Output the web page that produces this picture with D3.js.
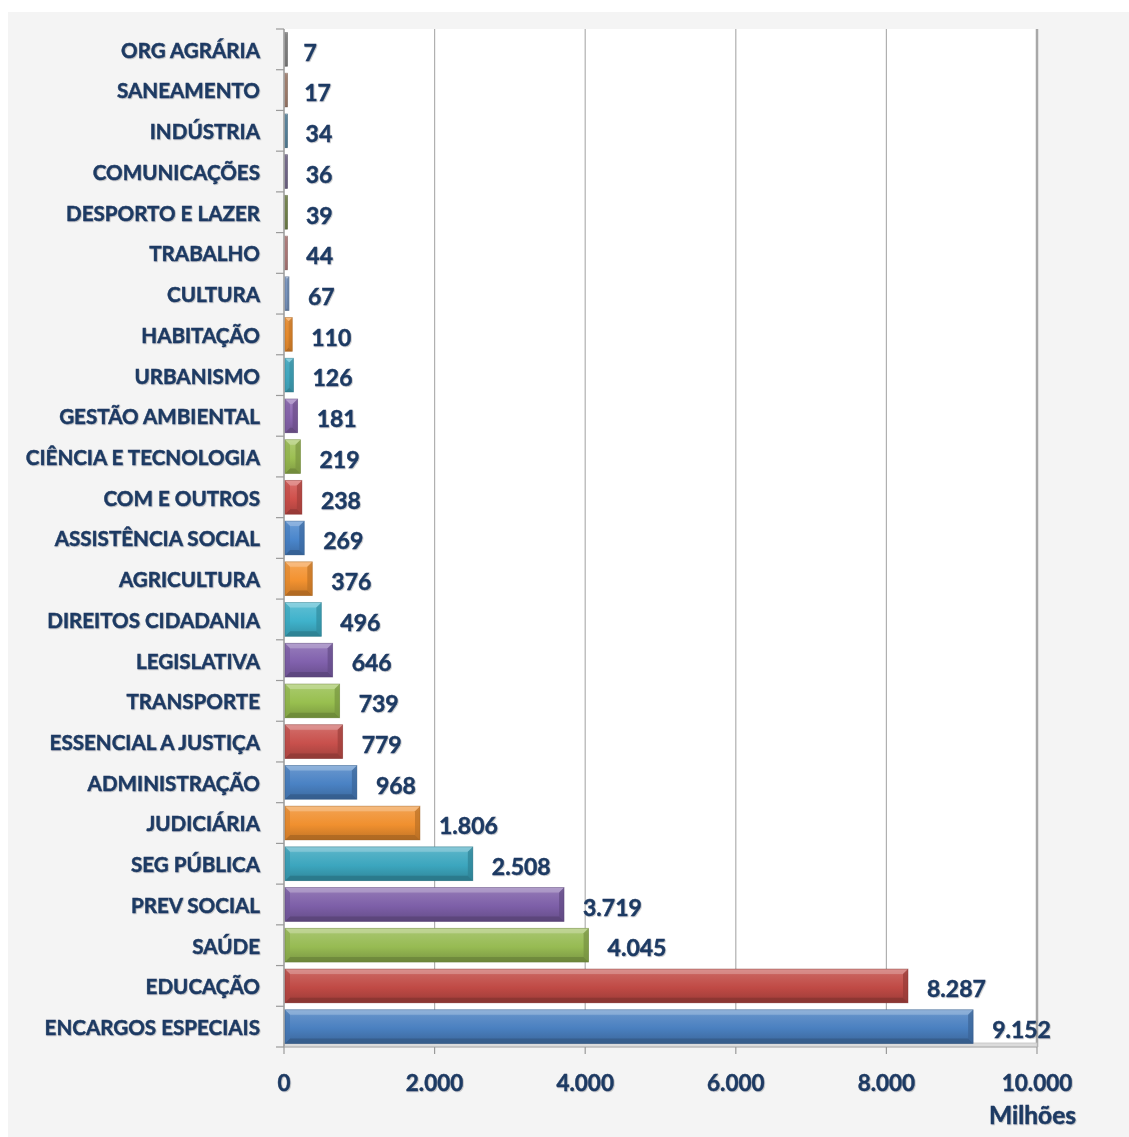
<!DOCTYPE html>
<html><head><meta charset="utf-8">
<script src="https://cdn.jsdelivr.net/npm/d3@7"></script>
<style>html,body{margin:0;padding:0;background:#fff}</style>
</head><body>
<svg id="c" width="1129" height="1137"></svg>
<script>
const categories = ["ORG AGRÁRIA","SANEAMENTO","INDÚSTRIA","COMUNICAÇÕES","DESPORTO E LAZER","TRABALHO","CULTURA","HABITAÇÃO","URBANISMO","GESTÃO AMBIENTAL","CIÊNCIA E TECNOLOGIA","COM E OUTROS","ASSISTÊNCIA SOCIAL","AGRICULTURA","DIREITOS CIDADANIA","LEGISLATIVA","TRANSPORTE","ESSENCIAL A JUSTIÇA","ADMINISTRAÇÃO","JUDICIÁRIA","SEG PÚBLICA","PREV SOCIAL","SAÚDE","EDUCAÇÃO","ENCARGOS ESPECIAIS"];
const values = [7,17,34,36,39,44,67,110,126,181,219,238,269,376,496,646,739,779,968,1806,2508,3719,4045,8287,9152];
const valueLabels = ["7","17","34","36","39","44","67","110","126","181","219","238","269","376","496","646","739","779","968","1.806","2.508","3.719","4.045","8.287","9.152"];
const barColors = ["#8c8c8c","#b08a78","#5f8fab","#7d7296","#7d8f52","#bf8584","#7f9cc8","#f39230","#45b1c9","#8a66b0","#9cbf52","#d0504b","#4a86cc","#f39230","#3fb2cb","#8161ad","#98bf4f","#c8504c","#4a82c4","#f0902f","#3ca6be","#7d5fa8","#97bb53","#c04a45","#4a80c0"];
const xTicks = [0,2000,4000,6000,8000,10000];
const xTickLabels = ["0","2.000","4.000","6.000","8.000","10.000"];
const unitLabel = "Milhões";

const svg = d3.select("#c");
const textColor = "#1f3a63";
const font = "Lato, 'Open Sans', sans-serif";

const defs = svg.append("defs");
const sh = defs.append("filter").attr("id","ts").attr("x","-5%").attr("y","-20%").attr("width","110%").attr("height","140%");
sh.append("feDropShadow").attr("dx",0.8).attr("dy",0.8).attr("stdDeviation",0.6).attr("flood-color","#000").attr("flood-opacity",0.25);

svg.append("rect").attr("x",8).attr("y",12).attr("width",1121).attr("height",1125).attr("fill","#f4f4f4");

const x = d3.scaleLinear().domain([0,10000]).range([284,1037]);
const y = d3.scaleBand().domain(categories).range([29,1047]).paddingInner(0.17).paddingOuter(0.085);

svg.append("rect").attr("x",x(0)).attr("y",29).attr("width",x(10000)-x(0)).attr("height",1047-29).attr("fill","#fff");

svg.append("g").selectAll("line").data(xTicks.slice(1)).join("line")
  .attr("x1",d=>x(d)).attr("x2",d=>x(d)).attr("y1",29).attr("y2",1047)
  .attr("stroke",d=> d===10000 ? "#a8a8a8" : "#b0b0b0")
  .attr("stroke-width",d=> d===10000 ? 2.5 : 1.2);

svg.append("rect").attr("x",x(0)).attr("y",1043).attr("width",x(10000)-x(0)).attr("height",4)
  .attr("fill","#dcdcdc").attr("stroke","#c4c4c4").attr("stroke-width",0.8);

svg.append("line").attr("x1",x(0)).attr("x2",x(0)).attr("y1",29).attr("y2",1047).attr("stroke","#9a9a9a").attr("stroke-width",1.5);
const bounds = categories.map(c=>y(c)-y.step()*y.paddingInner()/2).concat([1047]);
svg.append("g").selectAll("line").data(bounds).join("line")
  .attr("x1",276).attr("x2",x(0)).attr("y1",d=>d).attr("y2",d=>d)
  .attr("stroke","#9a9a9a").attr("stroke-width",1.2);
svg.append("line").attr("x1",x(0)).attr("x2",x(10000)).attr("y1",1047).attr("y2",1047).attr("stroke","#b0b0b0").attr("stroke-width",1.2);
svg.append("g").selectAll("line").data(xTicks).join("line")
  .attr("x1",d=>x(d)).attr("x2",d=>x(d)).attr("y1",1047).attr("y2",1054)
  .attr("stroke","#9a9a9a").attr("stroke-width",1.2);

barColors.forEach((c,i)=>{
  const g = defs.append("linearGradient").attr("id","g"+i).attr("x1",0).attr("y1",0).attr("x2",0).attr("y2",1);
  const base = d3.color(c);
  g.append("stop").attr("offset","0%").attr("stop-color",d3.interpolateRgb(c,"#fff")(0.35));
  g.append("stop").attr("offset","18%").attr("stop-color",d3.interpolateRgb(c,"#fff")(0.12));
  g.append("stop").attr("offset","55%").attr("stop-color",c);
  g.append("stop").attr("offset","100%").attr("stop-color",base.darker(0.6));
});

const bars = svg.append("g");
categories.forEach((cat,i)=>{
  const x0 = x(0)+1, x1 = x(values[i]);
  const y0 = y(cat), y1 = y(cat)+y.bandwidth();
  const w = Math.max(x1-x0, 2.5);
  const xe = x0 + w;
  const b = Math.min(5, w/2);
  const c = barColors[i];
  const g = bars.append("g");
  g.append("rect").attr("x",x0).attr("y",y0).attr("width",w).attr("height",y1-y0).attr("fill",`url(#g${i})`);
  g.append("polygon").attr("points",[[x0,y0],[xe,y0],[xe-b,y0+b],[x0+b,y0+b]].join(" "))
    .attr("fill",d3.interpolateRgb(c,"#fff")(0.4)).attr("opacity",0.75);
  g.append("polygon").attr("points",[[x0,y1],[xe,y1],[xe-b,y1-b],[x0+b,y1-b]].join(" "))
    .attr("fill",d3.color(c).darker(1.0)).attr("opacity",0.75);
  g.append("polygon").attr("points",[[x0,y0],[x0+b,y0+b],[x0+b,y1-b],[x0,y1]].join(" "))
    .attr("fill",d3.color(c).darker(0.3)).attr("opacity",0.6);
  g.append("polygon").attr("points",[[xe,y0],[xe-b,y0+b],[xe-b,y1-b],[xe,y1]].join(" "))
    .attr("fill",d3.color(c).darker(0.7)).attr("opacity",0.7);
  g.append("rect").attr("x",x0).attr("y",y0).attr("width",w).attr("height",y1-y0)
    .attr("fill","none").attr("stroke",d3.color(c).darker(1.2)).attr("stroke-width",0.8).attr("opacity",0.5);
});

function styleText(sel, size){
  return sel.attr("fill",textColor).attr("font-family",font).attr("font-weight",700)
    .attr("font-size",size).attr("stroke",textColor).attr("stroke-width",0.45).attr("filter","url(#ts)");
}

styleText(svg.append("g").selectAll("text").data(categories).join("text")
  .attr("x",(d,i)=>x(values[i])+19).attr("y",d=>y(d)+y.bandwidth()/2+3)
  .attr("dy","0.36em").text((d,i)=>valueLabels[i]), 23);

styleText(svg.append("g").selectAll("text").data(categories).join("text")
  .attr("x",260).attr("y",d=>y(d)+y.bandwidth()/2+1)
  .attr("dy","0.36em").attr("text-anchor","end").text(d=>d), 20.6);

styleText(svg.append("g").selectAll("text").data(xTicks).join("text")
  .attr("x",d=>x(d)).attr("y",1083).attr("dy","0.36em").attr("text-anchor","middle")
  .text((d,i)=>xTickLabels[i]), 22.5);

styleText(svg.append("text").attr("x",1076).attr("y",1115).attr("dy","0.36em").attr("text-anchor","end")
  .text(unitLabel), 24.5);
</script>
</body></html>
